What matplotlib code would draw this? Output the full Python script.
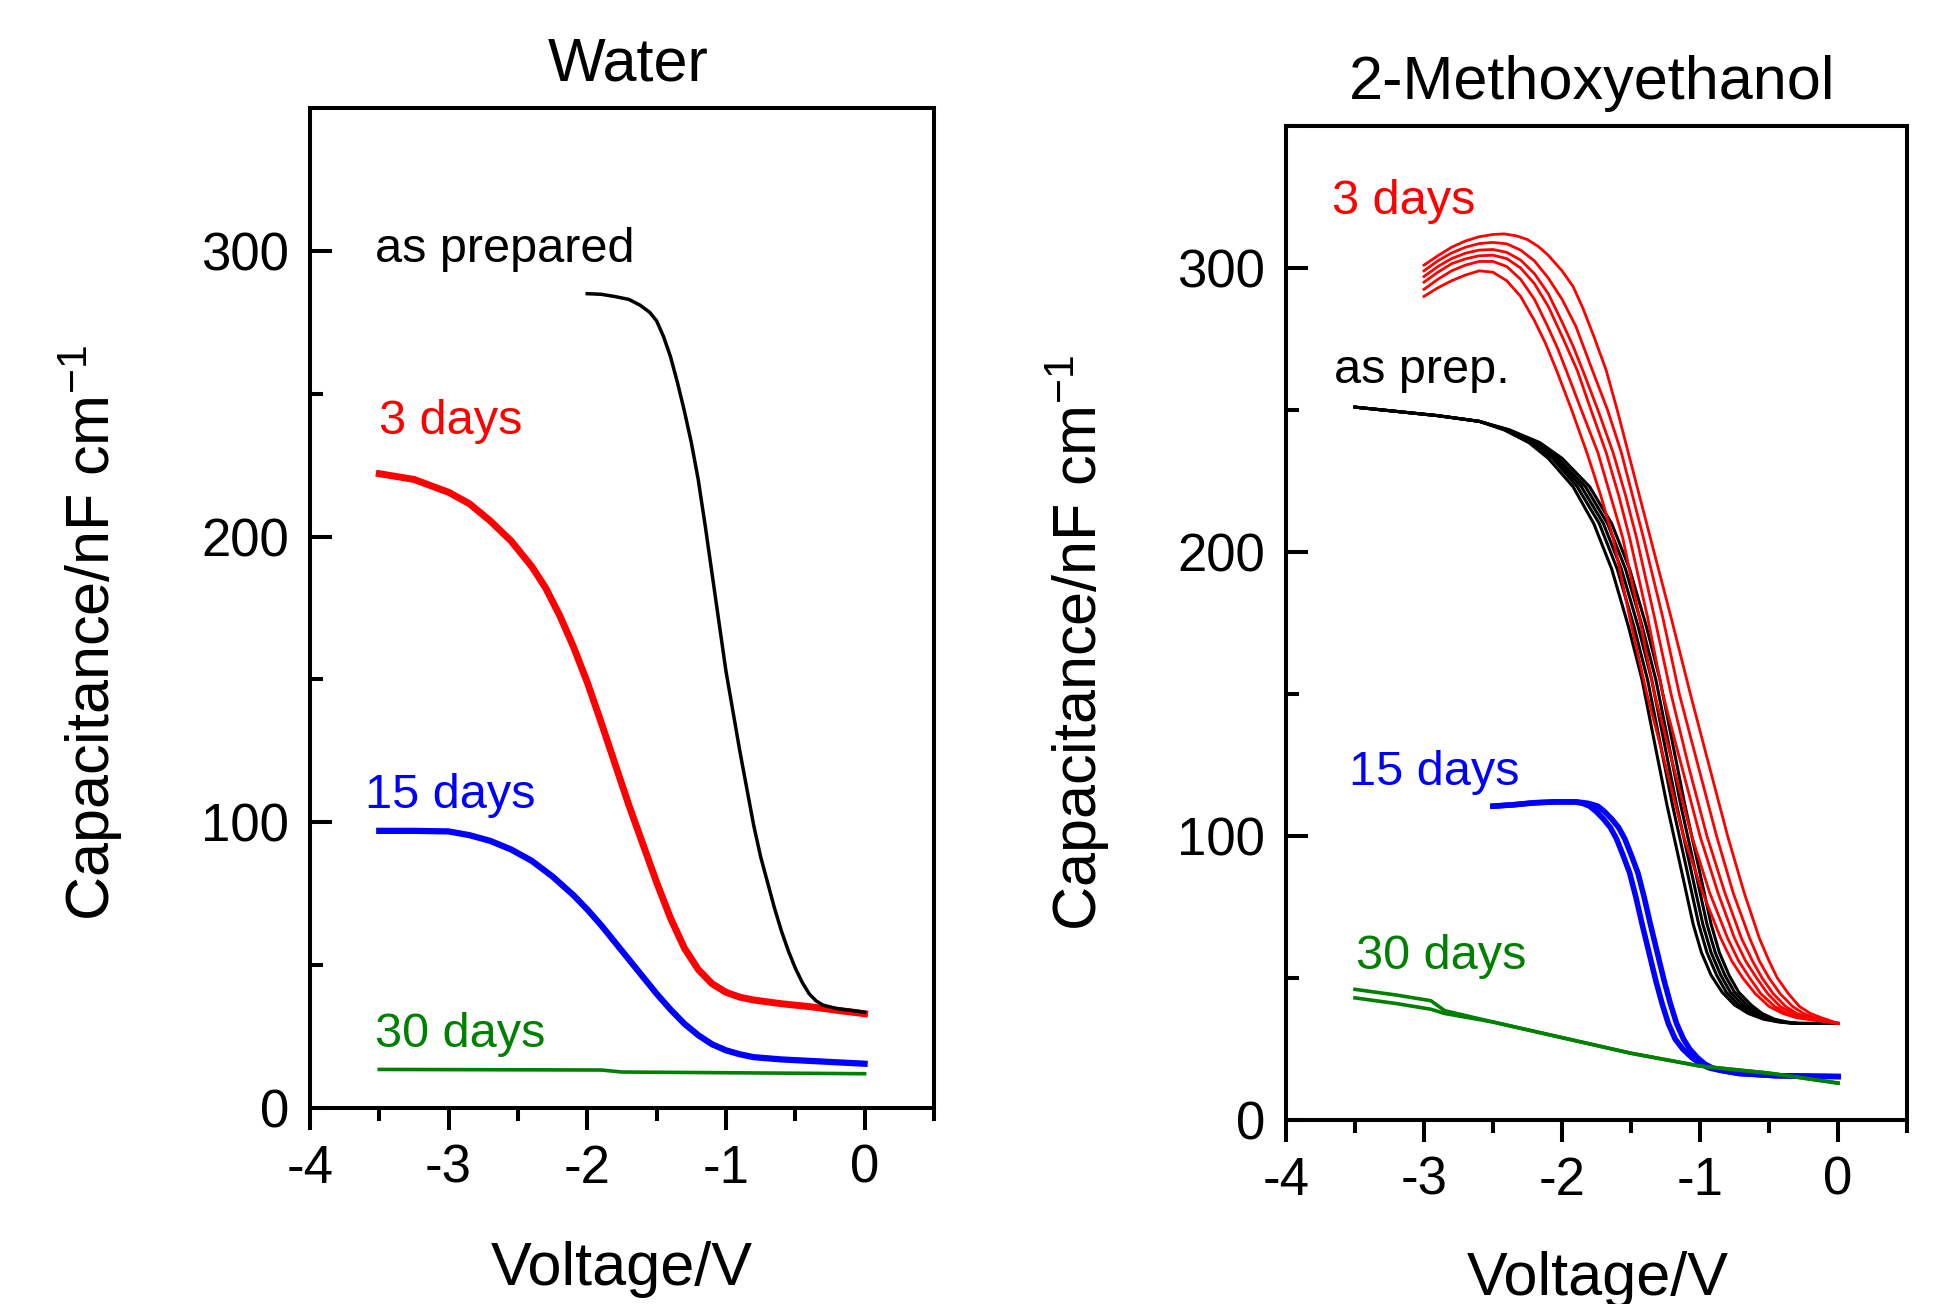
import matplotlib
matplotlib.use("Agg")
import matplotlib.pyplot as plt
from matplotlib.ticker import MultipleLocator

plt.rcParams['font.family'] = ['Liberation Sans', 'DejaVu Sans']
plt.rcParams['mathtext.fontset'] = 'custom'
plt.rcParams['mathtext.rm'] = 'Liberation Sans'
plt.rcParams['mathtext.it'] = 'Liberation Sans:italic'
plt.rcParams['mathtext.bf'] = 'Liberation Sans:bold'
plt.rcParams['axes.unicode_minus'] = False

# ---------------- Water panel data ----------------
water_prep_v = [-2.0, -1.9, -1.8, -1.7, -1.62, -1.55, -1.5, -1.45, -1.4, -1.35, -1.3,
                -1.25, -1.2, -1.15, -1.1, -1.05, -1.0, -0.95, -0.9, -0.85, -0.8, -0.75,
                -0.7, -0.65, -0.6, -0.55, -0.5, -0.45, -0.4, -0.35, -0.3, -0.2, -0.1, 0.0]
water_prep_c = [285, 284.8, 284, 283, 281, 278.5, 275.5, 270, 263, 254, 244,
                233, 220, 204, 187, 170, 153, 139, 125, 112, 99, 88,
                79, 70, 62, 55, 49, 44, 40, 37.5, 36, 34.8, 34.2, 33.5]

water_3d_v = [-3.5, -3.25, -3.0, -2.85, -2.7, -2.55, -2.4, -2.3, -2.2, -2.1, -2.0,
              -1.9, -1.8, -1.7, -1.6, -1.5, -1.4, -1.3, -1.2, -1.1, -1.0, -0.9,
              -0.8, -0.6, -0.4, -0.2, 0.0]
water_3d_c = [222, 220, 215.5, 211.5, 205.5, 198.5, 189.5, 182, 172.5, 161.5, 149,
              135, 120.5, 106, 92.5, 79, 66.5, 56, 48.5, 43.5, 40.5, 38.8,
              37.8, 36.5, 35.5, 34.2, 33]

water_15d_v = [-3.5, -3.25, -3.0, -2.85, -2.7, -2.55, -2.4, -2.25, -2.1, -2.0, -1.9,
               -1.8, -1.7, -1.6, -1.5, -1.4, -1.3, -1.2, -1.1, -1.0, -0.9, -0.8,
               -0.6, -0.4, -0.2, 0.0]
water_15d_c = [97, 97, 96.8, 95.5, 93.5, 90.5, 86.5, 81, 74.5, 69.5, 64,
               58, 52, 46, 40, 34.5, 29.5, 25.5, 22.3, 20.2, 18.8, 17.8,
               17, 16.5, 16, 15.5]

water_30d_v = [-3.5, -1.9, -1.75, 0.0]
water_30d_c = [13.5, 13.3, 12.6, 12.0]

# ---------------- 2-Methoxyethanol panel data ----------------
# as prepared: five repeated scans (shared capacitance levels)
meo_prep_c = [251, 249.5, 248, 246, 243, 238.5, 233, 223, 210, 194, 174, 155,
              133, 111, 89, 69, 59, 51, 45, 40.5, 37.5, 35.5, 34.5, 34, 34]
meo_prep_v1 = [-3.5, -3.2, -2.9, -2.6, -2.42, -2.24, -2.10, -1.92, -1.77, -1.64, -1.52,
               -1.42, -1.33, -1.24, -1.14, -1.05, -0.99, -0.92, -0.84, -0.75, -0.65,
               -0.54, -0.43, -0.32, 0.0]
meo_prep_v2 = [-3.5, -3.2, -2.9, -2.6, -2.41, -2.22, -2.07, -1.89, -1.73, -1.60, -1.48,
               -1.38, -1.29, -1.20, -1.10, -1.01, -0.95, -0.88, -0.81, -0.72, -0.62,
               -0.52, -0.41, -0.31, 0.0]
meo_prep_v3 = [-3.5, -3.2, -2.9, -2.6, -2.40, -2.20, -2.05, -1.86, -1.70, -1.57, -1.45,
               -1.35, -1.26, -1.17, -1.07, -0.98, -0.92, -0.85, -0.78, -0.69, -0.60,
               -0.50, -0.40, -0.30, 0.0]
meo_prep_v4 = [-3.5, -3.2, -2.9, -2.6, -2.39, -2.18, -2.03, -1.83, -1.67, -1.54, -1.42,
               -1.32, -1.23, -1.14, -1.04, -0.95, -0.89, -0.82, -0.75, -0.66, -0.58,
               -0.48, -0.39, -0.29, 0.0]
meo_prep_v5 = [-3.5, -3.2, -2.9, -2.6, -2.38, -2.16, -2.00, -1.80, -1.64, -1.51, -1.39,
               -1.29, -1.20, -1.11, -1.01, -0.92, -0.86, -0.79, -0.72, -0.63, -0.55,
               -0.46, -0.37, -0.28, 0.0]

# 3 days: six scans
meo_3d_v1 = [-3.0, -2.9, -2.8, -2.7, -2.6, -2.5, -2.4, -2.3, -2.2, -2.12, -2.04, -1.93,
             -1.82, -1.72, -1.63, -1.51, -1.385, -1.245, -1.12, -0.98, -0.85, -0.77,
             -0.69, -0.60, -0.50, -0.40, -0.30, 0.0]
meo_3d_c1 = [290, 293, 295.5, 297.5, 299, 298.5, 295.5, 290, 281.5, 273.5, 264, 250,
             235, 220, 205, 177, 150, 124, 100, 80, 64, 56,
             50, 44.5, 40, 37.5, 36, 34]
meo_3d_v2 = [-3.0, -2.9, -2.8, -2.7, -2.6, -2.5, -2.4, -2.3, -2.2, -2.1, -2.03, -1.97,
             -1.86, -1.74, -1.65, -1.56, -1.44, -1.33, -1.19, -1.06, -0.93, -0.80,
             -0.72, -0.64, -0.56, -0.46, -0.37, -0.27, 0.0]
meo_3d_c2 = [292.5, 296, 299, 301, 302.3, 302.3, 300.5, 296, 289, 279, 271.5, 264,
             250, 235, 220, 205, 177, 150, 124, 100, 80, 64,
             56, 50, 44.5, 40, 37.5, 36, 34]
meo_3d_v3 = [-3.0, -2.9, -2.8, -2.7, -2.6, -2.5, -2.4, -2.3, -2.2, -2.1, -2.0, -1.89,
             -1.79, -1.68, -1.59, -1.51, -1.38, -1.27, -1.13, -1.00, -0.87, -0.75,
             -0.67, -0.59, -0.51, -0.42, -0.33, -0.24, 0.0]
meo_3d_c3 = [295, 298.5, 301.5, 303.2, 304.3, 304.5, 303.3, 300, 294.5, 286.5, 276, 264,
             250, 235, 220, 205, 177, 150, 124, 100, 80, 64,
             56, 50, 44.5, 40, 37.5, 36, 34]
meo_3d_v4 = [-3.0, -2.9, -2.8, -2.7, -2.6, -2.5, -2.4, -2.3, -2.2, -2.1, -2.0, -1.92,
             -1.85, -1.74, -1.63, -1.54, -1.46, -1.33, -1.21, -1.08, -0.95, -0.82,
             -0.70, -0.62, -0.55, -0.47, -0.38, -0.30, -0.21, 0.0]
meo_3d_c4 = [297, 300.5, 303.3, 305.2, 306.3, 306.5, 305.5, 302.8, 298, 291, 281, 272.5,
             264, 250, 235, 220, 205, 177, 150, 124, 100, 80,
             64, 56, 50, 44.5, 40, 37.5, 36, 34]
meo_3d_v5 = [-3.0, -2.9, -2.8, -2.7, -2.6, -2.5, -2.4, -2.3, -2.2, -2.1, -2.0, -1.9,
             -1.78, -1.67, -1.57, -1.49, -1.41, -1.27, -1.15, -1.01, -0.88, -0.76,
             -0.64, -0.57, -0.50, -0.42, -0.33, -0.25, -0.17, 0.0]
meo_3d_c5 = [299, 302.5, 305.3, 307.3, 308.6, 309, 308.5, 306.3, 302.5, 296.5, 289, 279.5,
             264, 250, 235, 220, 205, 177, 150, 124, 100, 80,
             64, 56, 50, 44.5, 40, 37.5, 36, 34]
meo_3d_v6 = [-3.0, -2.9, -2.8, -2.7, -2.6, -2.5, -2.42, -2.33, -2.25, -2.17, -2.1, -2.0,
             -1.92, -1.85, -1.77, -1.68, -1.60, -1.52, -1.44, -1.36, -1.21, -1.07,
             -0.93, -0.80, -0.68, -0.57, -0.50, -0.44, -0.36, -0.28, -0.20, -0.12, 0.0]
meo_3d_c6 = [301, 304.3, 307.3, 309.5, 311, 311.8, 312, 311.3, 310, 307.5, 304.5, 299,
             293.5, 286, 276, 264, 250, 235, 220, 205, 177, 150,
             124, 100, 80, 64, 56, 50, 44.5, 40, 37.5, 36, 34]

# 15 days: band of scans (two edges)
meo_15d_c = [110.5, 111, 111.7, 112, 112, 111.5, 110.5, 108.5, 106, 103, 99, 93.5,
             87, 78.5, 69, 59, 49, 41, 34, 28.5, 25, 22, 19.7, 18.3, 17.5, 16.4,
             15.6, 15.3]
meo_15d_va = [-2.5, -2.35, -2.2, -2.05, -1.91, -1.85, -1.80, -1.75, -1.70, -1.65, -1.605,
              -1.56, -1.51, -1.465, -1.42, -1.37, -1.32, -1.275, -1.23, -1.18, -1.125,
              -1.06, -0.995, -0.93, -0.855, -0.72, -0.45, 0.0]
meo_15d_vb = [-2.5, -2.35, -2.2, -2.05, -1.89, -1.81, -1.74, -1.69, -1.64, -1.59, -1.545,
              -1.50, -1.45, -1.405, -1.36, -1.31, -1.26, -1.215, -1.17, -1.12, -1.075,
              -1.02, -0.965, -0.91, -0.845, -0.72, -0.45, 0.0]

# 30 days: two scans
meo_30d_v = [-3.5, -3.2, -2.95, -2.85, -2.5, -2.0, -1.5, -1.0, -0.5, 0.0]
meo_30d_ca = [46, 44, 42, 38.5, 34.5, 29, 23.5, 19, 16.5, 13]
meo_30d_cb = [43, 41, 39, 37.5, 34.5, 29, 23.5, 19, 16.5, 13]

x_ticks = [-4, -3, -2, -1, 0]
y_ticks = [0, 100, 200, 300]

RED = '#ff0000'
BLUE = '#0000ff'
GREEN = '#008000'
BLACK = '#000000'

fig = plt.figure(figsize=(19.42, 13.04), dpi=100)
ax1 = fig.add_axes([0.1596, 0.1503, 0.3213, 0.7669])
ax2 = fig.add_axes([0.6622, 0.1411, 0.3198, 0.7623])

TICK_FS = 38
LAB_FS = 44
TXT_FS = 35


def style(ax):
    ax.set_xlim(-4, 0.5)
    ax.set_ylim(0, 350)
    ax.set_xticks(x_ticks)
    ax.set_yticks(y_ticks)
    ax.xaxis.set_minor_locator(MultipleLocator(0.5))
    ax.yaxis.set_minor_locator(MultipleLocator(50))
    for s in ax.spines.values():
        s.set_linewidth(2.9)
    ax.tick_params(axis='x', which='major', direction='out', length=15.8, width=2.9,
                   labelsize=TICK_FS, pad=10)
    ax.tick_params(axis='x', which='minor', direction='out', length=9.4, width=2.9)
    ax.tick_params(axis='y', which='major', direction='in', length=15.8, width=2.9,
                   labelsize=TICK_FS, pad=15)
    ax.tick_params(axis='y', which='minor', direction='in', length=9.4, width=2.9)
    ax.tick_params(top=False, right=False, which='both')


style(ax1)
style(ax2)

# Water panel
ax1.plot(water_30d_v, water_30d_c, color=GREEN, lw=2.6)
ax1.plot(water_15d_v, water_15d_c, color=BLUE, lw=4.5, solid_joinstyle='round')
ax1.plot(water_3d_v, water_3d_c, color=RED, lw=5.0, solid_joinstyle='round')
ax1.plot(water_prep_v, water_prep_c, color=BLACK, lw=2.5, solid_joinstyle='round')

ax1.text(-3.53, 296, 'as prepared', color=BLACK, fontsize=TXT_FS, va='baseline', ha='left')
ax1.text(-3.50, 236, '3 days', color=RED, fontsize=TXT_FS, va='baseline', ha='left')
ax1.text(-3.60, 105, '15 days', color=BLUE, fontsize=TXT_FS, va='baseline', ha='left')
ax1.text(-3.53, 21.5, '30 days', color=GREEN, fontsize=TXT_FS, va='baseline', ha='left')

# 2-Methoxyethanol panel
for v in [meo_prep_v1, meo_prep_v2, meo_prep_v3, meo_prep_v4, meo_prep_v5]:
    ax2.plot(v, meo_prep_c, color=BLACK, lw=2.2, solid_joinstyle='round')
for v, c in [(meo_3d_v1, meo_3d_c1), (meo_3d_v2, meo_3d_c2), (meo_3d_v3, meo_3d_c3),
             (meo_3d_v4, meo_3d_c4), (meo_3d_v5, meo_3d_c5), (meo_3d_v6, meo_3d_c6)]:
    ax2.plot(v, c, color=RED, lw=2.0, solid_joinstyle='round')
ax2.plot(meo_15d_va, meo_15d_c, color=BLUE, lw=4.0, solid_joinstyle='round')
ax2.plot(meo_15d_vb, meo_15d_c, color=BLUE, lw=4.0, solid_joinstyle='round')
ax2.plot(meo_30d_v, meo_30d_ca, color=GREEN, lw=2.6)
ax2.plot(meo_30d_v, meo_30d_cb, color=GREEN, lw=2.6)

ax2.text(-3.67, 319, '3 days', color=RED, fontsize=TXT_FS, va='baseline', ha='left')
ax2.text(-3.65, 259.5, 'as prep.', color=BLACK, fontsize=TXT_FS, va='baseline', ha='left')
ax2.text(-3.54, 118, '15 days', color=BLUE, fontsize=TXT_FS, va='baseline', ha='left')
ax2.text(-3.49, 53, '30 days', color=GREEN, fontsize=TXT_FS, va='baseline', ha='left')

# Titles
ax1.text(0.51, 1.0275, 'Water', transform=ax1.transAxes, ha='center', va='baseline',
         fontsize=44)
ax2.text(0.493, 1.027, '2-Methoxyethanol', transform=ax2.transAxes, ha='center',
         va='baseline', fontsize=44)

# Axis labels
ylab = 'Capacitance/nF cm$^{\\mathrm{-1}}$'
for ax, (xl_x, xl_y), (yl_x, yl_y) in [(ax1, (0.50, -0.177), (-0.3205, 0.475)),
                                        (ax2, (0.502, -0.176), (-0.304, 0.48))]:
    ax.set_xlabel('Voltage/V', fontsize=LAB_FS)
    ax.xaxis.set_label_coords(xl_x, xl_y)
    ax.xaxis.label.set_va('baseline')
    ax.set_ylabel(ylab, fontsize=LAB_FS)
    ax.yaxis.set_label_coords(yl_x, yl_y)
    ax.yaxis.label.set_va('baseline')

fig.savefig('out.png', dpi=100)
